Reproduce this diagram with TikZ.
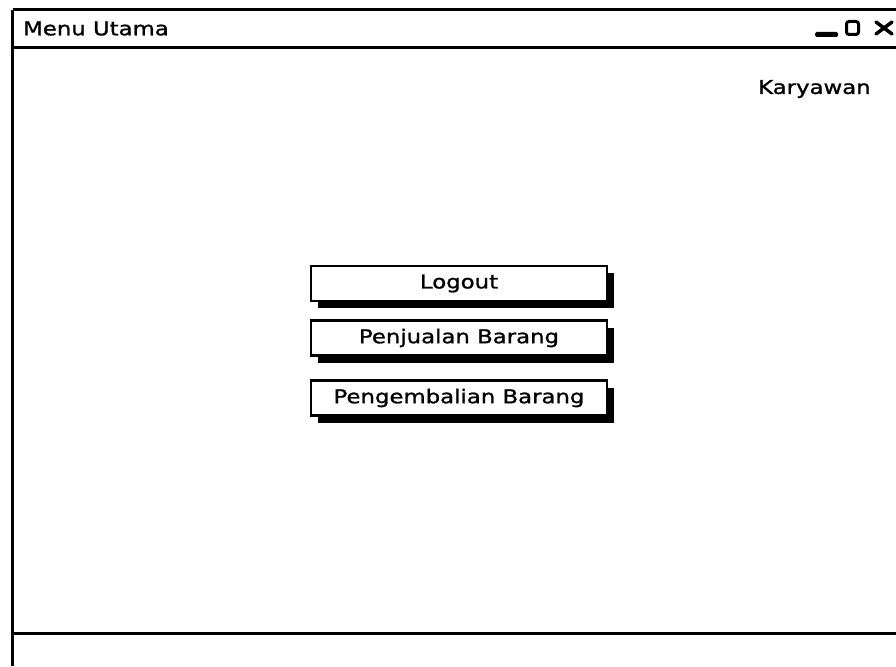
\documentclass[tikz,border=0pt]{standalone}
\usepackage{fontspec}
\setmainfont[FakeStretch=1.2,FakeBold=1.2]{DejaVu Sans}
\usetikzlibrary{shadows}
\begin{document}
\begin{tikzpicture}[x=1pt,y=-1pt,
  winline/.style={line width=3pt,black},
  label/.style={font=\fontsize{19}{22}\selectfont,text=black,inner sep=0pt},
  menubtn/.style={draw=black,line width=2.5pt,fill=white,minimum width=296pt,minimum height=35pt,
    inner sep=0pt,font=\fontsize{19}{22}\selectfont,
    drop shadow={shadow xshift=7pt,shadow yshift=-7pt,fill=black,opacity=1}}]
\useasboundingbox (0,0) rectangle (896,666);
\fill[white] (0,0) rectangle (896,666);

% window frame
\coordinate (tl) at (12.5,10);
\coordinate (tr) at (896,10);
\coordinate (hl) at (12.5,47.5);
\coordinate (hr) at (896,47.5);
\coordinate (bl) at (12.5,633);
\coordinate (br) at (896,633);
\coordinate (bottom) at (12.5,666);
\draw[winline] (tl) -- (tr);
\draw[winline] (hl) -- (hr);
\draw[winline] (bl) -- (br);
\draw[winline] (tl) -- (bottom);

% title and window controls
\node[label,anchor=west] (title) at (23,28.5) {Menu Utama};
\node[fill=black,rounded corners=1.5pt,minimum width=23pt,minimum height=5pt,inner sep=0pt] (minbtn) at (826.5,34.5) {};
\node[draw=black,line width=3pt,rounded corners=2.5pt,minimum width=12pt,minimum height=13pt,inner sep=0pt] (maxbtn) at (852.5,28) {};
\coordinate (xa) at (876,22);
\coordinate (xb) at (892,34);
\coordinate (xc) at (876,34);
\coordinate (xd) at (892,22);
\draw[line width=3.5pt,line cap=round] (xa) -- (xb);
\draw[line width=3.5pt,line cap=round] (xc) -- (xd);

% user role
\node[label,anchor=west] (user) at (758,89) {Karyawan};

% menu buttons
\node[menubtn] (logout) at (459,283.5) {Logout};
\node[menubtn] (jual) at (459,338) {Penjualan Barang};
\node[menubtn] (kembali) at (459,398) {Pengembalian Barang};
\end{tikzpicture}
\end{document}
